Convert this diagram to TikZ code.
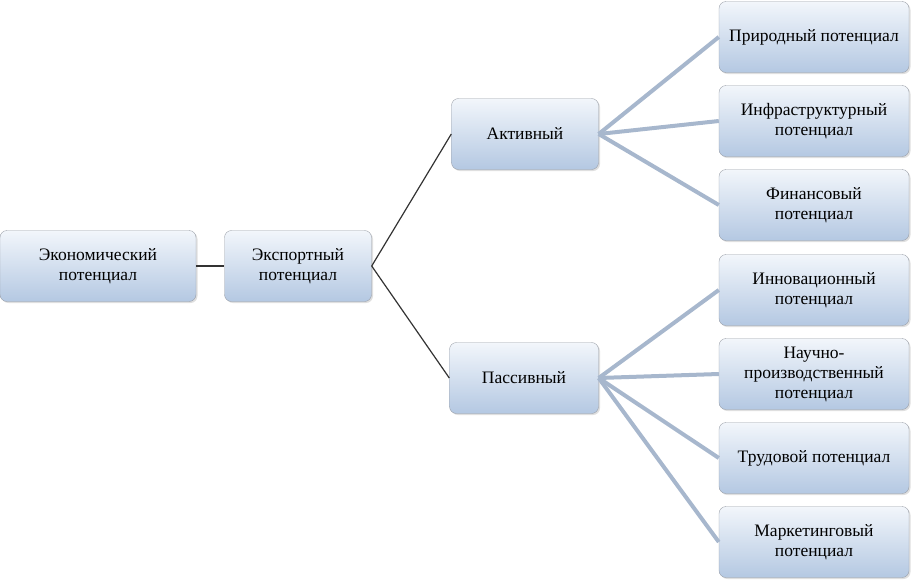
\documentclass[tikz,border=0pt]{standalone}
\usepackage{fontspec}
\setmainfont{Liberation Serif}
\usetikzlibrary{shadows}
\definecolor{boxtop}{HTML}{F2F6FB}
\definecolor{boxbot}{HTML}{B4C8E2}
\definecolor{boxline}{HTML}{9A9FA8}
\definecolor{fanline}{HTML}{A7B7CD}
\begin{document}
\begin{tikzpicture}[x=1pt,y=-1pt]
      \tikzset{pbox/.style = {draw=boxline, rounded corners=7pt, top color=boxtop, bottom color=boxbot,
        align=center, minimum height=71pt, inner sep=2pt, font=\fontsize{17.5}{20}\selectfont,
        drop shadow={opacity=0.25, shadow xshift=1.5pt, shadow yshift=-1.5pt}}}
      \tikzset{leaf/.style = {pbox, minimum width=190pt}}
      \tikzset{dark/.style = {draw=black!80, line width=1.2pt}}
      \tikzset{light/.style = {draw=fanline, line width=4pt}}
      \useasboundingbox (0,0) rectangle (911,579);

      \node[pbox, minimum width=196pt] (eco) at (98,266) {Экономический\\потенциал};
      \node[pbox, minimum width=147pt] (exp) at (298,266) {Экспортный\\потенциал};
      \node[pbox, minimum width=147pt] (act) at (525,134) {Активный};
      \node[pbox, minimum width=149pt] (pas) at (524,378) {Пассивный};

      \node[leaf] (nat) at (814,37) {Природный потенциал};
      \node[leaf] (infra) at (814,121) {Инфраструктурный\\потенциал};
      \node[leaf] (fin) at (814,205) {Финансовый\\потенциал};
      \node[leaf] (innov) at (814,290) {Инновационный\\потенциал};
      \node[leaf] (sci) at (814,374) {Научно-\\производственный\\потенциал};
      \node[leaf] (lab) at (814,458) {Трудовой потенциал};
      \node[leaf] (mark) at (814,542) {Маркетинговый\\потенциал};

      \draw[dark, line width=2pt] (eco) -- (exp);
      \draw[dark] (exp.east) -- (act.west);
      \draw[dark] (exp.east) -- (pas.west);

      \draw[light] (act.east) -- (nat.west);
      \draw[light] (act.east) -- (infra.west);
      \draw[light] (act.east) -- (fin.west);
      \draw[light] (pas.east) -- (innov.west);
      \draw[light] (pas.east) -- (sci.west);
      \draw[light] (pas.east) -- (lab.west);
      \draw[light] (pas.east) -- (mark.west);
    \end{tikzpicture}
\end{document}
